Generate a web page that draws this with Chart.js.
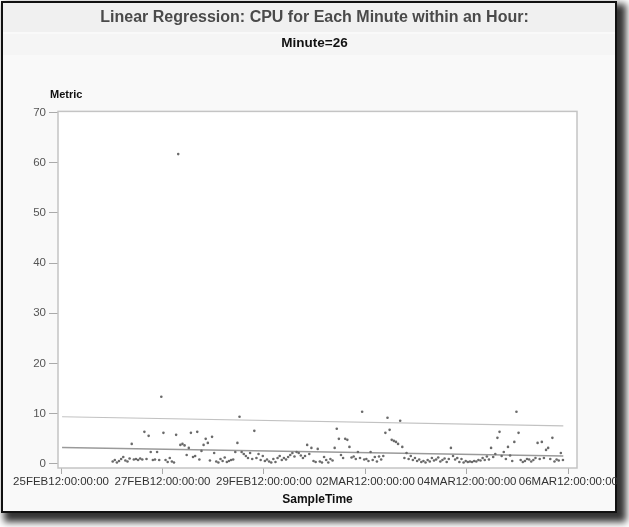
<!DOCTYPE html>
<html><head><meta charset="utf-8">
<script src="https://cdn.jsdelivr.net/npm/chart.js@4.4.1/dist/chart.umd.min.js"></script>
<style>
html,body{margin:0;padding:0;background:#fff;width:629px;height:527px;overflow:hidden;}
#frame{position:absolute;left:1px;top:1px;width:612px;height:508px;border:2px solid #111;background:#f9f9f9;box-shadow:6px 6px 7px 3px rgba(0,0,0,0.8);}
#c{position:absolute;left:0;top:0;}
</style></head><body>
<div id="frame"></div>
<canvas id="c" width="629" height="527"></canvas>
<script>
// ---- data ----
const xTickDays   = [0, 2, 4, 6, 8, 10];
const xTickLabels = ['25FEB12:00:00:00','27FEB12:00:00:00','29FEB12:00:00:00','02MAR12:00:00:00','04MAR12:00:00:00','06MAR12:00:00:00'];
const yTicks      = [0, 10, 20, 30, 40, 50, 60, 70];
// samples are taken at minute 26 of every hour, first one 26FEB12:00:26:00 (days since 25FEB12:00:00:00)
const firstSampleDay = 1 + 26 / 1440;
const cpuDay1 = [0.5,0.8,0.3,0.6,1.0,1.4,0.7,0.5,1.1,4.0,0.9,1.0,0.8,1.1,0.9,6.4,1.0,5.6,2.4,0.8,0.9,2.4,0.8,13.4];
const cpuDay2 = [6.2,0.8,0.4,1.2,0.5,0.3,5.8,61.7,3.8,4.0,3.7,1.8,3.2,6.2,1.4,1.6,6.4,0.9,2.6,3.8,5.0,4.2,0.7,5.4];
const cpuDay3 = [2.2,0.5,0.3,1.0,0.6,1.3,0.4,0.6,0.8,0.9,2.4,4.2,9.4,2.4,2.0,1.6,1.2,2.2,1.0,6.6,1.2,2.0,0.8,1.6];
const cpuDay4 = [0.6,0.9,0.5,0.3,1.0,0.4,1.2,1.6,0.8,1.2,0.9,1.4,1.8,2.2,1.5,2.4,2.2,1.7,1.2,1.6,3.8,2.0,3.2,0.6];
const cpuDay5 = [0.4,3.0,0.5,0.3,1.4,0.8,0.3,1.0,0.7,3.2,7.0,5.0,1.8,1.2,5.0,4.8,3.4,1.3,1.5,1.0,2.4,1.2,10.4,0.9];
const cpuDay6 = [1.0,0.6,2.4,0.8,1.4,0.5,1.5,0.9,1.6,6.2,9.2,6.8,4.8,4.6,4.4,4.0,8.6,3.4,1.2,2.2,1.0,1.6,0.8,1.2];
const cpuDay7 = [0.6,0.9,0.4,0.6,0.3,0.8,0.5,1.2,0.7,0.9,1.3,0.5,0.8,1.1,0.4,1.0,3.2,1.6,0.9,1.2,0.4,1.0,0.3,0.6];
const cpuDay8 = [0.4,0.5,0.4,0.6,0.5,0.8,0.7,1.2,0.8,1.5,0.9,3.2,1.4,2.0,5.2,6.4,1.6,2.4,1.0,3.4,1.7,0.6,4.4,10.4];
const cpuDay9 = [6.2,0.8,0.4,0.6,1.0,0.9,0.5,0.8,1.2,4.2,1.0,4.4,1.2,2.8,3.2,1.0,5.2,0.5,0.9,0.7,2.2,0.8];
// regression fit and upper prediction limit (end points)
const fitLineDays      = [0.02, 9.9];
const fitLineValues    = [3.3, 1.6];
const upperLimitValues = [9.4, 7.6];

const cpuValues = [].concat(cpuDay1,cpuDay2,cpuDay3,cpuDay4,cpuDay5,cpuDay6,cpuDay7,cpuDay8,cpuDay9);
const scatterPts = cpuValues.map((v,i)=>({x: firstSampleDay + i/24, y: v}));
const fitPts   = fitLineDays.map((d,i)=>({x:d, y:fitLineValues[i]}));
const upperPts = fitLineDays.map((d,i)=>({x:d, y:upperLimitValues[i]}));

const FONT = "'Liberation Sans', Arial, sans-serif";

const decor = {
  id: 'decor',
  beforeDraw(chart){
    const ctx = chart.ctx, a = chart.chartArea;
    ctx.save();
    ctx.fillStyle = '#f0f0f0'; ctx.fillRect(3,3,612,29);
    ctx.fillStyle = '#f5f5f5'; ctx.fillRect(3,34,612,21);
    ctx.fillStyle = '#ffffff'; ctx.fillRect(a.left, a.top, a.right-a.left, a.bottom-a.top);
    ctx.restore();
  },
  beforeDatasetsDraw(chart){
    const ctx = chart.ctx, a = chart.chartArea;
    ctx.save();
    ctx.strokeStyle = '#c4c4c4'; ctx.lineWidth = 1.5;
    ctx.strokeRect(a.left, a.top, a.right-a.left, a.bottom-a.top);
    ctx.fillStyle = '#111';
    ctx.font = "bold 11px " + FONT;
    ctx.textAlign = 'left'; ctx.textBaseline = 'middle';
    ctx.fillText('Metric', 50, 95);
    ctx.restore();
  }
};

new Chart(document.getElementById('c'), {
  data: {
    datasets: [
      { type:'line', label:'Upper limit', data: upperPts, borderColor:'#c2c2c2', borderWidth:1.2, pointRadius:0, fill:false, order:2 },
      { type:'line', label:'Fit', data: fitPts, borderColor:'#9a9a9a', borderWidth:1.5, pointRadius:0, fill:false, order:1 },
      { type:'scatter', label:'CPU', data: scatterPts, backgroundColor:'#6a6a6a', borderWidth:0, pointRadius:1.3, order:0 }
    ]
  },
  options: {
    responsive:false, animation:false, devicePixelRatio:1,
    layout:{ padding:{ left:0, right:0, top:0, bottom:15 } },
    plugins:{
      legend:{display:false}, tooltip:{enabled:false},
      title:{ display:true, text:'Linear Regression: CPU for Each Minute within an Hour:', color:'#4a4a4a',
              font:{family:FONT, size:16, weight:'bold'}, padding:{top:8,bottom:8} },
      subtitle:{ display:true, text:'Minute=26', color:'#111',
              font:{family:FONT, size:13.5, weight:'bold'}, padding:{top:0,bottom:60} }
    },
    scales:{
      x:{ type:'linear', min:-0.06, max:10.17,
          afterBuildTicks(s){ s.ticks = xTickDays.map(v=>({value:v})); },
          afterFit(s){ s.height = 44; },
          grid:{ drawOnChartArea:false, drawTicks:true, tickLength:6, color:'#aaa' },
          border:{ display:false },
          ticks:{ color:'#333', padding:1, maxRotation:0, autoSkip:false, font:{family:FONT, size:11.5},
                  callback:(v)=>{ const i = xTickDays.indexOf(v); return i>=0 ? xTickLabels[i] : ''; } },
          title:{ display:true, text:'SampleTime', color:'#111', font:{family:FONT, size:12, weight:'bold'}, padding:{top:0,bottom:5} }
      },
      y:{ type:'linear', min:-0.8, max:70.2,
          afterBuildTicks(s){ s.ticks = yTicks.map(v=>({value:v})); },
          afterFit(s){ s.width = 58; },
          grid:{ drawOnChartArea:false, drawTicks:true, tickLength:9, color:'#aaa' },
          border:{ display:false },
          ticks:{ color:'#555', padding:3, font:{family:FONT, size:11.5} }
      },
      yRightSpace:{ type:'linear', position:'right', display:true,
          afterFit(s){ s.width = 52; },
          grid:{ display:false, drawTicks:false }, border:{ display:false },
          ticks:{ display:false }
      }
    }
  },
  plugins:[decor]
});
</script>
</body></html>
